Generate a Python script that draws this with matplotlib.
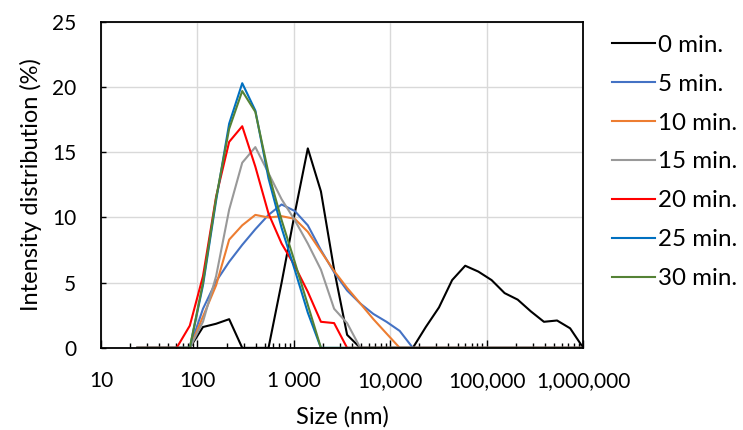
import numpy as np
import matplotlib
matplotlib.use("Agg")
import matplotlib.pyplot as plt
from matplotlib.ticker import FixedLocator, LogLocator, NullFormatter

plt.rcParams['font.family'] = ['Lato', 'DejaVu Sans']

# particle size bins (nm)
size_nm = [23.8, 32.5, 44.5, 60.8, 83.2, 114, 156, 213, 291, 398,
           545, 745, 1019, 1393, 1905, 2610, 3560, 4880, 6670, 9120,
           12500, 17100, 23300, 31900, 43700, 59700, 81700, 112000, 153000, 209000,
           286000, 391000, 535000, 731000, 1000000]

# intensity distribution (%) per sampling time
min0 = [0, 0, 0, 0, 0, 1.6, 1.85, 2.2, 0, 0,
        0, 5.0, 10.3, 15.3, 12.0, 6.0, 1.0, 0, 0, 0,
        0, 0, 1.6, 3.1, 5.2, 6.3, 5.85, 5.2, 4.2, 3.7,
        2.8, 2.0, 2.1, 1.5, 0]
min5 = [0, 0, 0, 0, 0, 3.0, 5.1, 6.6, 7.9, 9.1,
        10.2, 11.0, 10.5, 9.4, 7.5, 5.8, 4.4, 3.4, 2.6, 2.0,
        1.3, 0, 0, 0, 0, 0, 0, 0, 0, 0,
        0, 0, 0, 0, 0]
min10 = [0, 0, 0, 0, 0, 2.4, 4.8, 8.3, 9.4, 10.2,
         10.0, 10.1, 9.9, 8.9, 7.4, 5.9, 4.6, 3.4, 2.2, 1.1,
         0, 0, 0, 0, 0, 0, 0, 0, 0, 0,
         0, 0, 0, 0, 0]
min15 = [0, 0, 0, 0, 0, 2.0, 5.5, 10.6, 14.2, 15.4,
         13.4, 11.4, 9.8, 8.0, 6.0, 3.0, 1.9, 0, 0, 0,
         0, 0, 0, 0, 0, 0, 0, 0, 0, 0,
         0, 0, 0, 0, 0]
min20 = [0, 0, 0, 0, 1.7, 5.5, 11.6, 15.8, 17.0, 13.9,
         10.3, 8.0, 6.3, 4.3, 2.0, 1.9, 0, 0, 0, 0,
         0, 0, 0, 0, 0, 0, 0, 0, 0, 0,
         0, 0, 0, 0, 0]
min25 = [0, 0, 0, 0, 0, 4.8, 11.3, 17.2, 20.3, 18.2,
         13.0, 9.2, 6.0, 2.7, 0, 0, 0, 0, 0, 0,
         0, 0, 0, 0, 0, 0, 0, 0, 0, 0,
         0, 0, 0, 0, 0]
min30 = [0, 0, 0, 0, 0, 5.0, 11.5, 16.8, 19.7, 18.1,
         13.4, 9.8, 6.6, 3.3, 0, 0, 0, 0, 0, 0,
         0, 0, 0, 0, 0, 0, 0, 0, 0, 0,
         0, 0, 0, 0, 0]

labels = ['0 min.', '5 min.', '10 min.', '15 min.', '20 min.', '25 min.', '30 min.']
colors = ['black', '#4472C4', '#ED7D31', '#999999', '#FF0000', '#0070C0', '#548235']
series = [min0, min5, min10, min15, min20, min25, min30]

xticks = [10, 100, 1000, 10000, 100000, 1000000]
xticklabels = ['10', '100', '1 000', '10,000', '100,000', '1,000,000']
yticks = [0, 5, 10, 15, 20, 25]

fig = plt.figure(figsize=(7.43, 4.30), dpi=100)
ax = fig.add_axes([0.136, 0.191, 0.649, 0.758])

for y, c, lab in zip(series, colors, labels):
    ax.plot(size_nm, y, color=c, linewidth=1.5, label=lab)

ax.set_xscale('log')
ax.set_xlim(10, 1000000)
ax.set_ylim(0, 25)
ax.xaxis.set_major_locator(FixedLocator(xticks))
ax.set_xticklabels(xticklabels)
ax.xaxis.set_minor_locator(LogLocator(base=10, subs=np.arange(2, 10)))
ax.xaxis.set_minor_formatter(NullFormatter())
ax.set_yticks(yticks)

ax.grid(True, which='major', color='#D9D9D9', linewidth=1.0)
ax.set_axisbelow(True)
for s in ax.spines.values():
    s.set_color('black')
    s.set_linewidth(1.3)

ax.tick_params(axis='x', which='major', direction='in', length=5.5, width=1, pad=16.5, labelsize=15)
ax.tick_params(axis='x', which='minor', direction='in', length=3.5, width=1)
ax.tick_params(axis='y', which='major', direction='in', length=3.5, width=1, pad=18, labelsize=15)

ax.set_xlabel('Size (nm)', fontsize=17, labelpad=11)
ax.set_ylabel('Intensity distribution (%)', fontsize=17, labelpad=7)

fig.legend(loc='upper left', bbox_to_anchor=(0.824, 0.919), frameon=False,
           fontsize=17.4, labelspacing=0.74, handlelength=1.78, handletextpad=0.12,
           borderpad=0, borderaxespad=0)

fig.savefig('out.png', dpi=100)
